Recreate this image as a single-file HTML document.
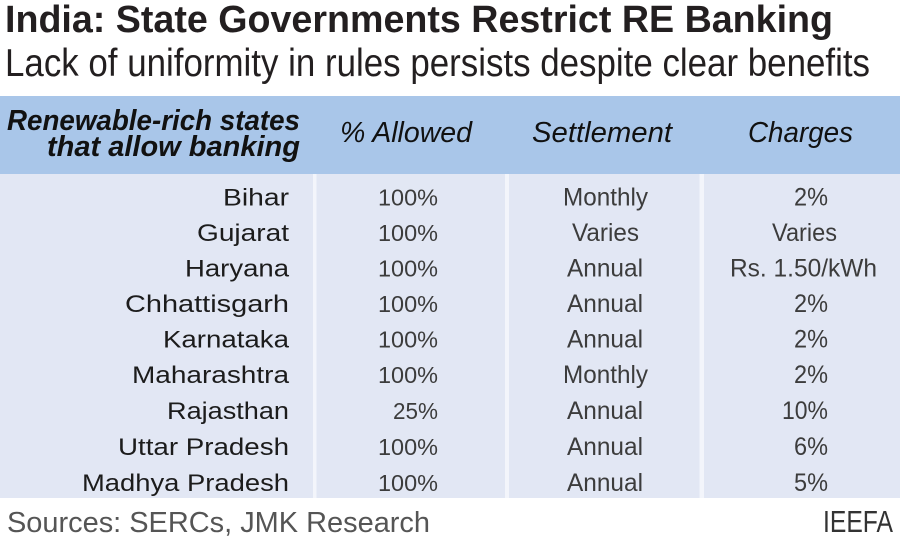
<!DOCTYPE html>
<html>
<head>
<meta charset="utf-8">
<style>
html,body{margin:0;padding:0;background:#fff;}
svg{display:block;}
text{font-family:"Liberation Sans",Arial,sans-serif;}
</style>
</head>
<body>
<svg width="900" height="540" viewBox="0 0 900 540" xmlns="http://www.w3.org/2000/svg">
  <rect x="0" y="0" width="900" height="540" fill="#ffffff"/>
  <!-- Title -->
  <text x="5" y="32" font-size="38" font-weight="bold" fill="#231f20" textLength="828" lengthAdjust="spacingAndGlyphs">India: State Governments Restrict RE Banking</text>
  <text x="5" y="76" font-size="39" fill="#231f20" textLength="865" lengthAdjust="spacingAndGlyphs">Lack of uniformity in rules persists despite clear benefits</text>

  <!-- Header band -->
  <rect x="0" y="96" width="900" height="78" fill="#a9c6e9"/>
  <!-- Body -->
  <rect x="0" y="174" width="900" height="324" fill="#e2e7f4"/>
  <!-- separators -->
  <rect x="313" y="174" width="3.5" height="324" fill="#f3f5fb"/>
  <rect x="505" y="174" width="4" height="324" fill="#f3f5fb"/>
  <rect x="699.5" y="174" width="4.5" height="324" fill="#f3f5fb"/>

  <!-- Header text -->
  <text x="7" y="130" font-size="29" font-weight="bold" font-style="italic" fill="#111" textLength="293" lengthAdjust="spacingAndGlyphs">Renewable-rich states</text>
  <text x="47" y="156" font-size="29" font-weight="bold" font-style="italic" fill="#111" textLength="253" lengthAdjust="spacingAndGlyphs">that allow banking</text>
  <text x="340" y="142" font-size="29" font-style="italic" fill="#111" textLength="132" lengthAdjust="spacingAndGlyphs">% Allowed</text>
  <text x="532" y="142" font-size="29" font-style="italic" fill="#111" textLength="140" lengthAdjust="spacingAndGlyphs">Settlement</text>
  <text x="748" y="142" font-size="29" font-style="italic" fill="#111" textLength="105" lengthAdjust="spacingAndGlyphs">Charges</text>

  <!-- State names (right aligned at 289) -->
  <g font-size="24" fill="#1c1c1c">
    <text x="223" y="205.5" textLength="66" lengthAdjust="spacingAndGlyphs">Bihar</text>
    <text x="197" y="241" textLength="92" lengthAdjust="spacingAndGlyphs">Gujarat</text>
    <text x="185" y="276.7" textLength="104" lengthAdjust="spacingAndGlyphs">Haryana</text>
    <text x="125" y="312" textLength="164" lengthAdjust="spacingAndGlyphs">Chhattisgarh</text>
    <text x="163" y="347.5" textLength="126" lengthAdjust="spacingAndGlyphs">Karnataka</text>
    <text x="132" y="383" textLength="157" lengthAdjust="spacingAndGlyphs">Maharashtra</text>
    <text x="167" y="419" textLength="122" lengthAdjust="spacingAndGlyphs">Rajasthan</text>
    <text x="118" y="455" textLength="171" lengthAdjust="spacingAndGlyphs">Uttar Pradesh</text>
    <text x="82" y="491" textLength="207" lengthAdjust="spacingAndGlyphs">Madhya Pradesh</text>
  </g>

  <!-- % Allowed -->
  <g font-size="23" fill="#3c3c3c">
    <text x="378" y="205.5" textLength="60" lengthAdjust="spacingAndGlyphs">100%</text>
    <text x="378" y="241" textLength="60" lengthAdjust="spacingAndGlyphs">100%</text>
    <text x="378" y="276.7" textLength="60" lengthAdjust="spacingAndGlyphs">100%</text>
    <text x="378" y="312" textLength="60" lengthAdjust="spacingAndGlyphs">100%</text>
    <text x="378" y="347.5" textLength="60" lengthAdjust="spacingAndGlyphs">100%</text>
    <text x="378" y="383" textLength="60" lengthAdjust="spacingAndGlyphs">100%</text>
    <text x="393" y="419" textLength="45" lengthAdjust="spacingAndGlyphs">25%</text>
    <text x="378" y="455" textLength="60" lengthAdjust="spacingAndGlyphs">100%</text>
    <text x="378" y="491" textLength="60" lengthAdjust="spacingAndGlyphs">100%</text>
  </g>

  <!-- Settlement -->
  <g font-size="25" fill="#3c3c3c">
    <text x="563" y="205.5" textLength="85" lengthAdjust="spacingAndGlyphs">Monthly</text>
    <text x="572" y="241" textLength="67" lengthAdjust="spacingAndGlyphs">Varies</text>
    <text x="567" y="276.7" textLength="76" lengthAdjust="spacingAndGlyphs">Annual</text>
    <text x="567" y="312" textLength="76" lengthAdjust="spacingAndGlyphs">Annual</text>
    <text x="567" y="347.5" textLength="76" lengthAdjust="spacingAndGlyphs">Annual</text>
    <text x="563" y="383" textLength="85" lengthAdjust="spacingAndGlyphs">Monthly</text>
    <text x="567" y="419" textLength="76" lengthAdjust="spacingAndGlyphs">Annual</text>
    <text x="567" y="455" textLength="76" lengthAdjust="spacingAndGlyphs">Annual</text>
    <text x="567" y="491" textLength="76" lengthAdjust="spacingAndGlyphs">Annual</text>
  </g>

  <!-- Charges -->
  <g font-size="25" fill="#3c3c3c">
    <text x="794" y="205.5" textLength="34" lengthAdjust="spacingAndGlyphs">2%</text>
    <text x="772" y="241" textLength="65" lengthAdjust="spacingAndGlyphs">Varies</text>
    <text x="730" y="276.7" textLength="147" lengthAdjust="spacingAndGlyphs">Rs. 1.50/kWh</text>
    <text x="794" y="312" textLength="34" lengthAdjust="spacingAndGlyphs">2%</text>
    <text x="794" y="347.5" textLength="34" lengthAdjust="spacingAndGlyphs">2%</text>
    <text x="794" y="383" textLength="34" lengthAdjust="spacingAndGlyphs">2%</text>
    <text x="782" y="419" textLength="46" lengthAdjust="spacingAndGlyphs">10%</text>
    <text x="794" y="455" textLength="34" lengthAdjust="spacingAndGlyphs">6%</text>
    <text x="794" y="491" textLength="34" lengthAdjust="spacingAndGlyphs">5%</text>
  </g>

  <!-- Footer -->
  <text x="7" y="532" font-size="29" fill="#555555" textLength="423" lengthAdjust="spacingAndGlyphs">Sources: SERCs, JMK Research</text>
  <text x="823" y="532" font-size="31" fill="#333333" textLength="70" lengthAdjust="spacingAndGlyphs">IEEFA</text>
</svg>
</body>
</html>
